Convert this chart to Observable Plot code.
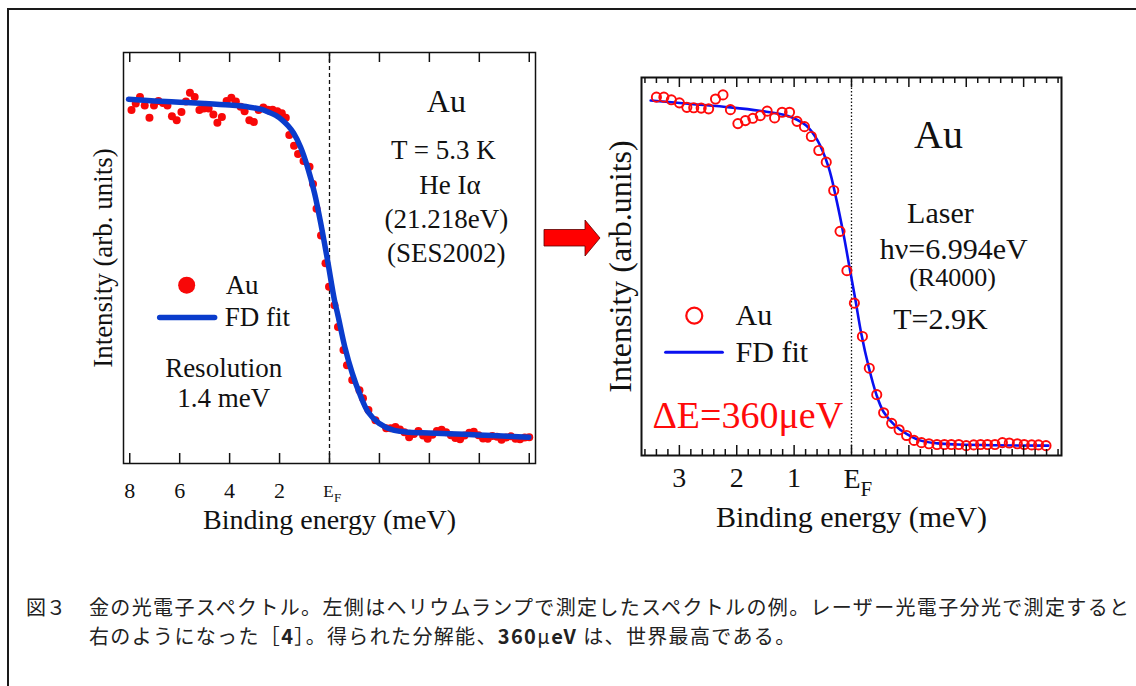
<!DOCTYPE html>
<html><head><meta charset="utf-8">
<script src="https://cdn.jsdelivr.net/npm/d3@7"></script>
<script src="https://cdn.jsdelivr.net/npm/@observablehq/plot@0.6"></script>
<style>
html,body{margin:0;padding:0;background:#fff;}
body{width:1136px;height:686px;overflow:hidden;position:relative;font-family:"Liberation Serif",serif;}
#outer{position:absolute;left:7px;top:8px;width:1150px;height:700px;border:2px solid #1a1a1a;box-sizing:border-box;}
#left{position:absolute;left:0;top:0;}
#right{position:absolute;left:560px;top:0;}
#deco{position:absolute;left:0;top:0;}
.cap{position:absolute;font-family:"Noto Sans CJK JP",sans-serif;font-size:20px;letter-spacing:1.35px;white-space:nowrap;color:#222;line-height:1;}
.cap b{font-weight:bold;}
</style>
</head><body>
<div id="outer"></div>
<div id="left"></div>
<div id="right"></div>
<svg id="deco" width="1136" height="686"><polygon points="544,229.5 585,229.5 585,220 600,238 585,256 585,246 544,246" fill="#ff0000" stroke="#5a0000" stroke-width="0.8"/></svg>
<div class="cap" style="left:26px;top:597px;letter-spacing:0">図３</div>
<div class="cap" style="left:89px;top:597px">金の光電子スペクトル。左側はヘリウムランプで測定したスペクトルの例。レーザー光電子分光で測定すると</div>
<div class="cap" style="left:89px;top:626px">右のようになった［<b>4</b>］。得られた分解能、<b>360</b>μ<b>eV</b> は、世界最高である。</div>
<script>
// ---------- Left panel (He Iα, SES2002) ----------
const leftDataE = [7.93,7.76,7.59,7.40,7.21,7.03,6.85,6.67,6.49,6.31,6.12,5.93,5.75,5.59,5.40,5.21,5.03,4.84,4.65,4.49,4.31,4.12,3.93,3.75,3.56,3.40,3.21,3.03,2.84,2.65,2.47,2.28,2.09,1.91,1.75,1.61,
  1.42,1.26,1.04,0.80,0.66,0.52,0.34,0.16,0.02,-0.20,-0.34,-0.56,-0.70,-0.91,-1.20,-1.34,-1.56,-1.84,-2.27,
  -2.45,-2.64,-2.82,-3.00,-3.19,-3.38,-3.56,-3.75,-3.93,-4.12,-4.30,-4.49,-4.67,-4.86,-5.04,-5.23,-5.41,-5.60,-5.78,-5.97,-6.15,-6.34,-6.52,-6.71,-6.89,-7.08,-7.26,-7.45,-7.63,-7.82,-8.00];
const leftDataI = [86.0,87.6,89.2,87.1,84.1,87.1,88.2,87.7,87.1,84.5,83.5,85.5,88.1,90.2,89.2,86.0,86.4,86.4,84.9,82.9,84.3,88.2,89.0,88.1,86.8,85.7,83.5,83.1,86.0,86.6,86.1,86.1,85.7,85.2,84.1,79.9,
  77.3,75.3,73.6,72.2,68.0,62.0,55.5,48.7,43.0,38.5,33.2,27.6,23.9,20.3,17.8,15.9,13.0,10.5,8.6,
  8.6,8.9,8.3,7.6,6.4,7.2,7.9,6.8,6.0,7.0,7.9,8.2,7.6,6.9,6.2,5.9,6.8,7.5,7.7,6.9,6.1,6.0,6.7,6.5,5.8,6.3,6.6,6.0,5.9,6.3,6.4];
const leftFitE = [8.05,7.0,6.0,5.0,4.0,3.2,2.76,2.44,2.15,1.88,1.65,1.44,1.16,0.88,0.60,0.32,0.08,-0.20,-0.34,-0.62,-0.91,-1.20,-1.56,-1.98,-2.56,-3.20,-3.98,-5.40,-6.50,-7.98];
const leftFitI = [88.6,88.2,87.9,87.6,87.2,86.7,86.2,85.5,84.7,83.5,82.1,80.4,77.0,72.1,65.8,57.5,49.5,39.7,36.0,28.2,22.0,17.1,12.4,9.8,8.1,7.6,7.4,7.1,6.8,6.4];
const leftTicks = [8,6,4,2,0,-2,-4,-6,-8];
const leftTickLabelValues = [8,6,4,2];
const leftTickLabels = ["8","6","4","2"];

// ---------- Right panel (Laser 6.994 eV, R4000) ----------
const rightDataE = [3.40,3.27,3.14,3.00,2.87,2.75,2.62,2.49,2.37,2.24,2.11,1.98,1.85,1.72,1.59,1.47,1.34,1.21,1.08,0.95,0.82,0.70,0.57,0.44,0.31,0.20,0.08,-0.05,-0.19,-0.31,-0.44,-0.56,-0.70,-0.83,-0.96,-1.09,-1.22,-1.35,-1.49,-1.62,-1.74,-1.87,-2.00,-2.13,-2.25,-2.37,-2.50,-2.63,-2.75,-2.89,-3.01,-3.14,-3.26,-3.39];
const rightDataI = [94.8,94.8,94.1,93.3,92.1,92.0,91.9,91.7,94.3,95.4,91.5,87.8,88.6,89.2,89.9,91.1,89.3,90.8,90.8,88.4,87.0,84.4,80.7,77.6,70.1,59.3,48.9,40.3,31.5,23.1,16.1,11.3,8.5,6.8,5.3,4.0,3.4,3.1,2.9,2.9,2.9,2.9,2.6,2.8,2.9,2.9,2.9,3.4,3.3,3.1,2.9,2.8,2.8,2.6];
const rightFitE = [3.50,2.80,2.11,1.60,1.12,0.79,0.59,0.40,0.26,0.13,0.035,-0.07,-0.17,-0.30,-0.43,-0.56,-0.76,-0.96,-1.19,-1.50,-1.85,-2.50,-3.43];
const rightFitI = [93.9,93.0,92.1,91.2,89.9,87.3,83.3,76.3,67.5,57.8,49.8,41.0,32.3,23.4,16.3,11.5,7.9,5.7,4.0,3.2,2.9,2.7,2.6];
const rightMajorTicks = [3,2,1,0,-1,-2,-3];
const rightTickLabelValues = [3,2,1];
const rightTickLabels = ["3","2","1"];

const serif = "Liberation Serif, Times New Roman, serif";
const pts = (xs, ys) => xs.map((x, i) => ({x, y: ys[i]}));

// ---- Left plot ----
const LH = 540, LFrameH = 540 - 52 - 77;
const left = Plot.plot({
  width: 560, height: LH,
  marginLeft: 123, marginRight: 25, marginTop: 52, marginBottom: 77,
  x: {domain: [8.25, -8.25], axis: null},
  y: {domain: [0, 100], axis: null},
  style: {fontFamily: serif, background: "transparent", overflow: "visible", color: "#111"},
  marks: [
    Plot.ruleX([0], {x: d => d, stroke: "#111", strokeWidth: 1.3, strokeDasharray: "4,3"}),
    Plot.dot(pts(leftDataE, leftDataI), {x: "x", y: "y", r: 4, fill: "#f80808", stroke: null}),
    Plot.line(pts(leftFitE, leftFitI), {x: "x", y: "y", stroke: "#0a3ccc", strokeWidth: 5.5, curve: "catmull-rom"}),
    Plot.ruleX(leftTicks, {x: d => d, insetTop: LFrameH - 10, stroke: "#111", strokeWidth: 1.5}),
    Plot.ruleX(leftTicks, {x: d => d, insetBottom: LFrameH - 10, stroke: "#111", strokeWidth: 1.5}),
    Plot.frame({stroke: "#111", strokeWidth: 1.5}),
    Plot.text(leftTickLabelValues, {x: d => d, text: (d, i) => leftTickLabels[i], frameAnchor: "bottom", lineAnchor: "middle", dy: 27, fontSize: 22, fill: "#111"}),
    Plot.text([0], {x: d => d, text: () => "E", frameAnchor: "bottom", lineAnchor: "bottom", textAnchor: "middle", dy: 33, dx: -1, fontSize: 17, fill: "#111"}),
    Plot.text([0], {x: d => d, text: () => "F", frameAnchor: "bottom", lineAnchor: "bottom", textAnchor: "start", dy: 38.5, dx: 4.5, fontSize: 13, fill: "#111"}),
    Plot.text(["Binding energy (meV)"], {text: d => d, frameAnchor: "bottom", lineAnchor: "middle", textAnchor: "middle", dy: 57, fontSize: 28, fill: "#111"}),
    Plot.text(["Intensity (arb. units)"], {text: d => d, frameAnchor: "left", textAnchor: "middle", lineAnchor: "middle", rotate: -90, dx: -20, fontSize: 27, fill: "#111"}),
    // annotations
    Plot.text([{t: "Au", x: -4.68, y: 88.0}], {x: "x", y: "y", text: "t", fontSize: 32, fill: "#111"}),
    Plot.text([{t: "T = 5.3 K", x: -4.56, y: 76.1}, {t: "He Iα", x: -4.82, y: 67.7}, {t: "(21.218eV)", x: -4.68, y: 59.4}, {t: "(SES2002)", x: -4.68, y: 51.1}],
      {x: "x", y: "y", text: "t", fontSize: 27, fill: "#111"}),
    Plot.dot([{x: 5.72, y: 43.4}], {x: "x", y: "y", r: 8.5, fill: "#f80808", stroke: null}),
    Plot.line([{x: 6.8, y: 35.5}, {x: 4.6, y: 35.5}], {x: "x", y: "y", stroke: "#0a3ccc", strokeWidth: 5.5}),
    Plot.text([{t: "Au", x: 4.16, y: 43.4}, {t: "FD fit", x: 4.2, y: 35.5}], {x: "x", y: "y", text: "t", textAnchor: "start", fontSize: 27, fill: "#111"}),
    Plot.text([{t: "Resolution", x: 4.24, y: 23.2}, {t: "1.4 meV", x: 4.24, y: 15.9}], {x: "x", y: "y", text: "t", fontSize: 27, fill: "#111"})
  ]
});
document.getElementById("left").append(left);

// ---- Right plot ----
const RFrameH = 540 - 77 - 85;
const rightMinorTicks = d3.range(-18, 19).map(k => k / 5).filter(v => Math.abs(v - Math.round(v)) > 1e-6);
const right = Plot.plot({
  width: 576, height: 540,
  marginLeft: 81, marginRight: 75, marginTop: 77, marginBottom: 85,
  x: {domain: [3.66, -3.66], axis: null},
  y: {domain: [0, 100], axis: null},
  style: {fontFamily: serif, background: "transparent", overflow: "visible", color: "#111"},
  marks: [
    Plot.ruleX([0], {x: d => d, stroke: "#111", strokeWidth: 1.3, strokeDasharray: "1.5,2"}),
    Plot.line(pts(rightFitE, rightFitI), {x: "x", y: "y", stroke: "#0a10f0", strokeWidth: 2.6, curve: "catmull-rom"}),
    Plot.dot(pts(rightDataE, rightDataI), {x: "x", y: "y", r: 4.6, fill: "none", stroke: "#ff0a0a", strokeWidth: 1.9}),
    Plot.ruleX(rightMajorTicks, {x: d => d, insetTop: RFrameH - 10, stroke: "#111", strokeWidth: 1.5}),
    Plot.ruleX(rightMajorTicks, {x: d => d, insetBottom: RFrameH - 10, stroke: "#111", strokeWidth: 1.5}),
    Plot.ruleX(rightMinorTicks, {x: d => d, insetTop: RFrameH - 6, stroke: "#111", strokeWidth: 1.5}),
    Plot.ruleX(rightMinorTicks, {x: d => d, insetBottom: RFrameH - 6, stroke: "#111", strokeWidth: 1.5}),
    Plot.frame({stroke: "#111", strokeWidth: 2}),
    Plot.text(rightTickLabelValues, {x: d => d, text: (d, i) => rightTickLabels[i], frameAnchor: "bottom", lineAnchor: "middle", dy: 23, fontSize: 28, fill: "#111"}),
    Plot.text([0], {x: d => d, text: () => "E", frameAnchor: "bottom", lineAnchor: "bottom", textAnchor: "middle", dy: 32, dx: 0.5, fontSize: 28, fill: "#111"}),
    Plot.text([0], {x: d => d, text: () => "F", frameAnchor: "bottom", lineAnchor: "bottom", textAnchor: "start", dy: 40, dx: 9, fontSize: 21, fill: "#111"}),
    Plot.text(["Binding energy (meV)"], {text: d => d, frameAnchor: "bottom", lineAnchor: "middle", textAnchor: "middle", dy: 62, fontSize: 30, fill: "#111"}),
    Plot.text(["Intensity (arb.units)"], {text: d => d, frameAnchor: "left", textAnchor: "middle", lineAnchor: "middle", rotate: -90, dx: -21, fontSize: 32, fill: "#111"}),
    // annotations
    Plot.text([{t: "Au", x: -1.516, y: 84.7}], {x: "x", y: "y", text: "t", fontSize: 40, fill: "#111"}),
    Plot.text([{t: "Laser", x: -1.55, y: 64.0, s: 30}, {t: "hν=6.994eV", x: -1.78, y: 54.6, s: 30}, {t: "(R4000)", x: -1.76, y: 47.0, s: 26}, {t: "T=2.9K", x: -1.55, y: 36.0, s: 30}],
      {x: "x", y: "y", text: "t", fontSize: d => d.s, fill: "#111"}),
    Plot.dot([{x: 2.74, y: 37.0}], {x: "x", y: "y", r: 8, fill: "none", stroke: "#ff0a0a", strokeWidth: 2.2}),
    Plot.line([{x: 3.24, y: 27.3}, {x: 2.25, y: 27.3}], {x: "x", y: "y", stroke: "#0a10f0", strokeWidth: 3}),
    Plot.text([{t: "Au", x: 2.02, y: 37.0}, {t: "FD fit", x: 2.02, y: 27.3}], {x: "x", y: "y", text: "t", textAnchor: "start", fontSize: 30, fill: "#111"}),
    Plot.text([{t: "ΔE=360μeV", x: 3.47, y: 10.6}], {x: "x", y: "y", text: "t", textAnchor: "start", fontSize: 38, fill: "#ff0a0a"})
  ]
});
document.getElementById("right").append(right);
</script>
</body></html>
